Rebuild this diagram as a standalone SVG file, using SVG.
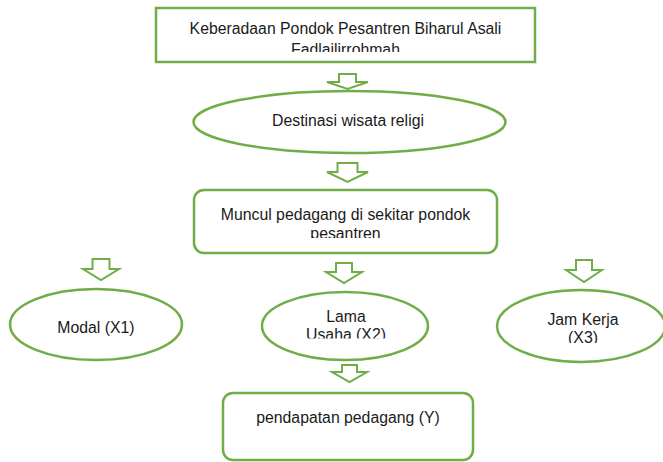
<svg xmlns="http://www.w3.org/2000/svg" width="663" height="462" viewBox="0 0 663 462">
<style>
.shape{fill:#ffffff;stroke:#70ad47;stroke-width:2.5}
.arr{fill:#ffffff;stroke:#70ad47;stroke-width:2;stroke-linejoin:miter}
text{font-family:"Liberation Sans",Arial,sans-serif;font-size:15.8px;fill:#1a1a1a;text-anchor:middle}
</style>
<defs>
<clipPath id="c1"><rect x="150" y="0" width="400" height="52"/></clipPath>
<clipPath id="c2"><rect x="190" y="185" width="320" height="53"/></clipPath>
<clipPath id="c3"><rect x="250" y="290" width="190" height="48.5"/></clipPath>
<clipPath id="c4"><rect x="490" y="290" width="173" height="53"/></clipPath>
</defs>
<rect width="663" height="462" fill="#ffffff"/>
<g id="connectors">
<path class="arr" d="M339,74 H356 V82 H368 L347.5,89 L327,82 H339 Z"/>
<path class="arr" d="M337.5,163 H357.5 V172 H368 L347.5,182 L327,172 H337.5 Z"/>
<path class="arr" d="M92.5,259 H109.5 V269 H119 L101,280 L83,269 H92.5 Z"/>
<path class="arr" d="M336,263 H352 V272 H362 L344,283 L326,272 H336 Z"/>
<path class="arr" d="M576,260 H592 V270 H602 L584,282 L566,270 H576 Z"/>
<path class="arr" d="M342,365 H357 V372 H367 L349.5,382 L332,372 H342 Z"/>
</g>
<g id="n1">
<rect class="shape" x="156" y="8" width="379" height="54"/>
<g clip-path="url(#c1)">
<text x="345.5" y="34">Keberadaan Pondok Pesantren Biharul Asali</text>
<text x="345.5" y="55">Fadlailirrohmah</text>
</g>
</g>
<g id="n2">
<ellipse class="shape" cx="349.5" cy="122" rx="156" ry="31"/>
<text x="348" y="126">Destinasi wisata religi</text>
</g>
<g id="n3">
<rect class="shape" x="194" y="190" width="303" height="63" rx="10"/>
<g clip-path="url(#c2)">
<text x="345.5" y="220">Muncul pedagang di sekitar pondok</text>
<text x="345.5" y="238.5">pesantren</text>
</g>
</g>
<g id="n4">
<ellipse class="shape" cx="96" cy="324.5" rx="86" ry="35.5"/>
<text x="96" y="333">Modal (X1)</text>
</g>
<g id="n5">
<ellipse class="shape" cx="345" cy="326" rx="83" ry="34"/>
<g clip-path="url(#c3)">
<text x="346" y="322">Lama</text>
<text x="346" y="340">Usaha (X2)</text>
</g>
</g>
<g id="n6">
<ellipse class="shape" cx="581" cy="326" rx="84" ry="36"/>
<g clip-path="url(#c4)">
<text x="583" y="325">Jam Kerja</text>
<text x="583" y="343">(X3)</text>
</g>
</g>
<g id="n7">
<rect class="shape" x="223" y="393" width="250" height="67" rx="10"/>
<text x="348" y="423">pendapatan pedagang (Y)</text>
</g>
</svg>
